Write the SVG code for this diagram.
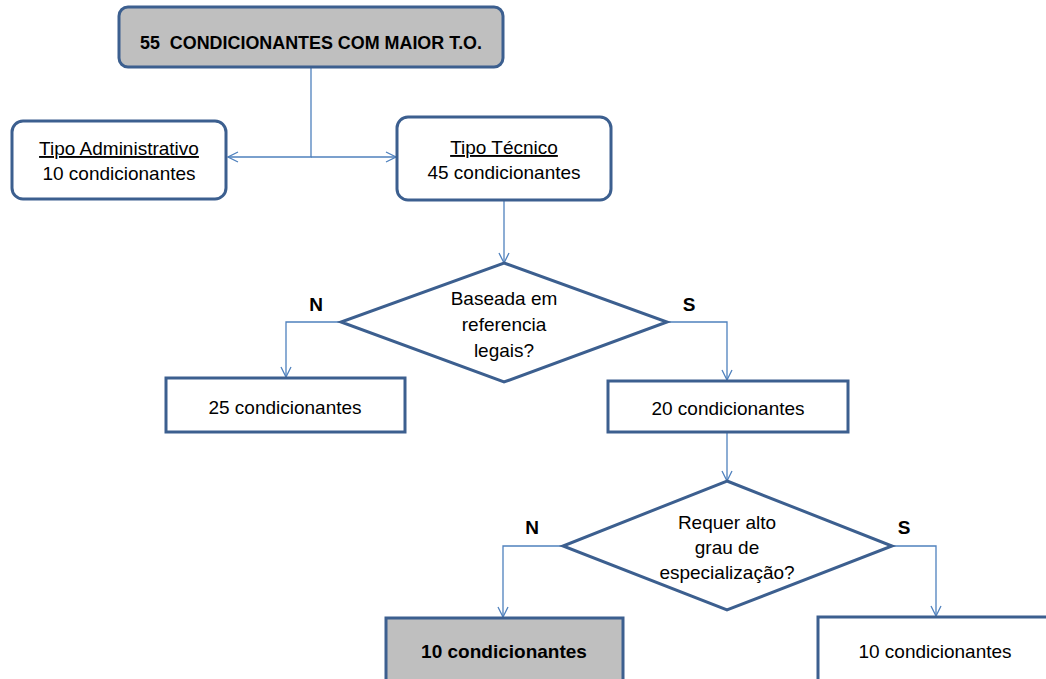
<svg xmlns="http://www.w3.org/2000/svg" width="1046" height="679" viewBox="0 0 1046 679">
<style>
.box{fill:#fff;stroke:#3C5F8F;stroke-width:3}
.gray{fill:#BFBFBF}
.t{font-family:"Liberation Sans",Arial,sans-serif;font-size:19px;fill:#000;text-anchor:middle}
.b{font-weight:bold}
.c{fill:none;stroke:#4F81BD;stroke-width:1.3}
</style>
<defs>
<marker id="a" viewBox="0 0 12 12" refX="11" refY="6" markerWidth="12" markerHeight="12" markerUnits="userSpaceOnUse" orient="auto">
<path d="M1,1 L11,6 L1,11" fill="none" stroke="#4F81BD" stroke-width="1.3"/>
</marker>
</defs>
<g id="connectors">
<path class="c" d="M311,67 V157 H228" marker-end="url(#a)"/>
<path class="c" d="M311,157 H396" marker-end="url(#a)"/>
<path class="c" d="M504,201 V263" marker-end="url(#a)"/>
<path class="c" d="M341,322 H286 V377" marker-end="url(#a)"/>
<path class="c" d="M667,322 H727 V380" marker-end="url(#a)"/>
<path class="c" d="M727,433 V481" marker-end="url(#a)"/>
<path class="c" d="M563,546 H503 V617" marker-end="url(#a)"/>
<path class="c" d="M892,546 H936 V616" marker-end="url(#a)"/>
</g>
<g id="top">
<rect class="box gray" x="119" y="7" width="384" height="60" rx="9"/>
<text class="t b" x="311" y="49" font-size="16" textLength="342" lengthAdjust="spacingAndGlyphs">55&#160; CONDICIONANTES COM MAIOR T.O.</text>
</g>
<g id="admin">
<rect class="box" x="12" y="121" width="214" height="78" rx="11"/>
<text class="t" x="119" y="155" text-decoration="underline">Tipo Administrativo</text>
<text class="t" x="119" y="180">10 condicionantes</text>
</g>
<g id="tecnico">
<rect class="box" x="397" y="117" width="214" height="83" rx="11"/>
<text class="t" x="504" y="154" text-decoration="underline">Tipo Técnico</text>
<text class="t" x="504" y="179">45 condicionantes</text>
</g>
<g id="d1">
<polygon class="box" points="504,263 667,322 504,382 341,322"/>
<text class="t" x="504" y="305">Baseada em</text>
<text class="t" x="504" y="331">referencia</text>
<text class="t" x="504" y="357">legais?</text>
</g>
<text class="t b" x="316" y="311" font-size="17">N</text>
<text class="t b" x="689" y="311" font-size="17">S</text>
<g id="n25">
<rect class="box" x="166" y="378" width="239" height="54"/>
<text class="t" x="285" y="414">25 condicionantes</text>
</g>
<g id="n20">
<rect class="box" x="608" y="381" width="240" height="51"/>
<text class="t" x="728" y="415">20 condicionantes</text>
</g>
<g id="d2">
<polygon class="box" points="727,481 892,546 727,610 563,546"/>
<text class="t" x="727" y="529">Requer alto</text>
<text class="t" x="727" y="554">grau de</text>
<text class="t" x="727" y="579">especialização?</text>
</g>
<text class="t b" x="532" y="534" font-size="17">N</text>
<text class="t b" x="904" y="534" font-size="17">S</text>
<g id="n10a">
<rect class="box gray" x="386" y="618" width="237" height="70"/>
<text class="t b" x="504" y="658">10 condicionantes</text>
</g>
<g id="n10b">
<rect class="box" x="818" y="617" width="240" height="70"/>
<text class="t" x="935" y="658">10 condicionantes</text>
</g>
</svg>
